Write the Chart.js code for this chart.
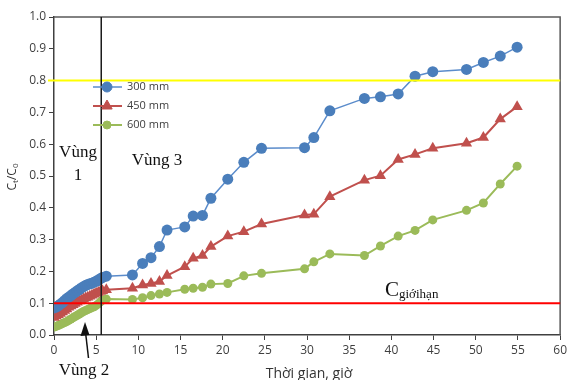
<html><head>
<meta charset="UTF-8">
<title>Ct/C0 theo thời gian</title>
<script src="https://cdn.jsdelivr.net/npm/chart.js"></script>
<style>
    body { margin: 0; background: #ffffff; }
    .chart-container { width: 570px; height: 380px; position: relative; }
</style>
</head>
<body>
<div class="chart-container">
    <canvas id="breakthroughChart" width="570" height="380"></canvas>
</div>
<script>
    // thời gian (giờ)
    const hours = [0, 0.25, 0.5, 0.75, 1, 1.25, 1.5, 1.75, 2, 2.25, 2.5, 2.75, 3, 3.25, 3.5, 3.75,
        4, 4.25, 4.5, 4.75, 5, 5.25, 5.5, 5.75,
        6.2, 9.3, 10.5, 11.5, 12.5, 13.4, 15.5, 16.5, 17.6, 18.6, 20.6, 22.5, 24.6, 29.7, 30.8, 32.7,
        36.8, 38.7, 40.8, 42.8, 44.9, 48.9, 50.9, 52.9, 54.9];

    const c300 = [0.085, 0.088, 0.092, 0.097, 0.102, 0.108, 0.114, 0.119, 0.124, 0.129, 0.134, 0.139,
        0.143, 0.148, 0.152, 0.156, 0.159, 0.161, 0.163, 0.166, 0.169, 0.173, 0.177, 0.181,
        0.185, 0.189, 0.225, 0.243, 0.278, 0.33, 0.34, 0.374, 0.376, 0.43, 0.49, 0.543, 0.587, 0.589, 0.621, 0.705,
        0.744, 0.749, 0.758, 0.814, 0.828, 0.835, 0.857, 0.877, 0.905];

    const c450 = [0.055, 0.06, 0.064, 0.068, 0.072, 0.077, 0.082, 0.087, 0.091, 0.095, 0.099, 0.103,
        0.107, 0.11, 0.113, 0.116, 0.119, 0.122, 0.125, 0.128, 0.131, 0.134, 0.137, 0.139,
        0.142, 0.147, 0.157, 0.162, 0.168, 0.187, 0.215, 0.241, 0.25, 0.278, 0.311, 0.325, 0.349, 0.377, 0.38, 0.435,
        0.487, 0.501, 0.552, 0.568, 0.587, 0.603, 0.621, 0.679, 0.718];

    const c600 = [0.025, 0.027, 0.03, 0.033, 0.036, 0.039, 0.042, 0.046, 0.05, 0.054, 0.058, 0.062,
        0.066, 0.07, 0.074, 0.077, 0.08, 0.083, 0.086, 0.089, 0.093, 0.098, 0.104, 0.11,
        0.113, 0.112, 0.117, 0.124, 0.129, 0.134, 0.144, 0.147, 0.15, 0.16, 0.162, 0.186, 0.194, 0.208, 0.23, 0.255,
        0.25, 0.28, 0.311, 0.329, 0.362, 0.392, 0.415, 0.475, 0.531];

    const seriesLabels = ['300 mm', '450 mm', '600 mm'];

    // mốc tham chiếu
    const limitLevel = 0.1;      // C giới hạn
    const upperLevel = 0.8;
    const zoneBoundary = 5.6;    // ranh giới vùng (giờ)

    const toPoints = (ys) => hours.map((h, i) => ({ x: h, y: ys[i] }));

    const axisColor = '#404040';
    const tickColor = '#3f3f3f';
    const serif = '"Liberation Serif", "DejaVu Serif", serif';
    const sans = '"Open Sans", "Liberation Sans", sans-serif';

    const overlay = {
        id: 'overlay',
        afterDatasetsDraw(chart) {
            const { ctx, chartArea: a, scales: { x, y } } = chart;
            ctx.save();

            // khung
            ctx.strokeStyle = '#595959';
            ctx.lineWidth = 1.5;
            ctx.beginPath();
            ctx.moveTo(a.left, a.top);
            ctx.lineTo(a.right, a.top);
            ctx.lineTo(a.right, a.bottom);
            ctx.stroke();

            // đường ngang
            const yUp = y.getPixelForValue(upperLevel);
            ctx.strokeStyle = '#ffff00';
            ctx.lineWidth = 2;
            ctx.beginPath(); ctx.moveTo(a.left - 6, yUp); ctx.lineTo(a.right, yUp); ctx.stroke();

            const yLim = y.getPixelForValue(limitLevel);
            ctx.strokeStyle = '#ff0000';
            ctx.beginPath(); ctx.moveTo(a.left, yLim); ctx.lineTo(a.right, yLim); ctx.stroke();

            // đường dọc
            const xB = x.getPixelForValue(zoneBoundary);
            ctx.strokeStyle = '#1a1a1a';
            ctx.lineWidth = 1.5;
            ctx.beginPath(); ctx.moveTo(xB, a.top); ctx.lineTo(xB, a.bottom); ctx.stroke();

            // chú giải
            const ds = chart.data.datasets;
            const legendY = [87, 106, 125];
            ds.forEach((d, i) => {
                const ly = legendY[i];
                ctx.strokeStyle = d.borderColor;
                ctx.lineWidth = d.borderWidth;
                ctx.beginPath(); ctx.moveTo(93, ly); ctx.lineTo(122, ly); ctx.stroke();
                ctx.fillStyle = d.pointBackgroundColor;
                ctx.strokeStyle = d.pointBackgroundColor;
                ctx.lineWidth = 1;
                Chart.helpers.drawPoint(ctx, {
                    pointStyle: d.pointStyle, rotation: 0, radius: d.pointRadius - 0.5, borderWidth: 1
                }, 107, ly);
                ctx.fillStyle = '#404040';
                ctx.font = '11px ' + sans;
                ctx.textAlign = 'left';
                ctx.textBaseline = 'middle';
                ctx.fillText(seriesLabels[i], 127, ly);
            });

            // chữ vùng
            ctx.fillStyle = '#111';
            ctx.font = '17px ' + serif;
            ctx.textAlign = 'center';
            ctx.textBaseline = 'middle';
            ctx.fillText('Vùng', 78, 153);
            ctx.fillText('1', 78, 176);
            ctx.fillText('Vùng 3', 157, 161);
            ctx.fillText('Vùng 2', 84, 371);

            // mũi tên
            ctx.strokeStyle = '#111';
            ctx.lineWidth = 1.5;
            ctx.beginPath(); ctx.moveTo(88.5, 358); ctx.lineTo(85.5, 332); ctx.stroke();
            ctx.beginPath();
            ctx.moveTo(85, 322); ctx.lineTo(80.5, 336); ctx.lineTo(89.5, 335); ctx.closePath();
            ctx.fillStyle = '#111';
            ctx.fill();

            // C giới hạn
            ctx.textAlign = 'left';
            ctx.textBaseline = 'alphabetic';
            ctx.font = '21px ' + serif;
            ctx.fillText('C', 385, 296);
            const cw = ctx.measureText('C').width;
            ctx.font = '13px ' + serif;
            ctx.fillText('giớihạn', 385 + cw, 298);

            // tiêu đề trục
            ctx.fillStyle = '#333';
            ctx.font = '14px ' + sans;
            ctx.textAlign = 'center';
            ctx.textBaseline = 'middle';
            ctx.fillText('Thời gian, giờ', 309, 374);

            ctx.translate(13, 177);
            ctx.rotate(-Math.PI / 2);
            ctx.textAlign = 'left';
            ctx.textBaseline = 'middle';
            const parts = [['C', 12, 0], ['t', 8, 3], ['/C', 12, 0], ['0', 8, 3]];
            let total = 0;
            parts.forEach(([t, s]) => { ctx.font = s + 'px ' + sans; total += ctx.measureText(t).width; });
            let px = -total / 2;
            parts.forEach(([t, s, dy]) => {
                ctx.font = s + 'px ' + sans;
                ctx.fillText(t, px, dy);
                px += ctx.measureText(t).width;
            });
            ctx.restore();
        }
    };

    const ctx = document.getElementById('breakthroughChart').getContext('2d');
    new Chart(ctx, {
        type: 'line',
        data: {
            datasets: [
                {
                    label: seriesLabels[0],
                    data: toPoints(c300),
                    borderColor: '#5b8ccb',
                    borderWidth: 1.5,
                    pointStyle: 'circle',
                    pointRadius: 5.5,
                    pointBackgroundColor: '#4a7ebb',
                    pointBorderColor: '#4a7ebb',
                    pointBorderWidth: 0
                },
                {
                    label: seriesLabels[1],
                    data: toPoints(c450),
                    borderColor: '#c0504d',
                    borderWidth: 2,
                    pointStyle: 'triangle',
                    pointRadius: 6.5,
                    pointBackgroundColor: '#c0504d',
                    pointBorderColor: '#c0504d',
                    pointBorderWidth: 0
                },
                {
                    label: seriesLabels[2],
                    data: toPoints(c600),
                    borderColor: '#9bbb59',
                    borderWidth: 2,
                    pointStyle: 'circle',
                    pointRadius: 4.5,
                    pointBackgroundColor: '#9bbb59',
                    pointBorderColor: '#9bbb59',
                    pointBorderWidth: 0
                }
            ]
        },
        options: {
            responsive: false,
            animation: false,
            layout: { padding: { top: 17, right: 7, left: 0, bottom: 0 } },
            plugins: {
                legend: { display: false },
                tooltip: { enabled: false }
            },
            scales: {
                x: {
                    type: 'linear',
                    min: 0, max: 60,
                    afterFit(scale) { scale.height = 45; },
                    border: { display: true, color: axisColor, width: 1.5 },
                    grid: { display: true, drawOnChartArea: false, drawTicks: true, tickLength: 5, color: axisColor },
                    ticks: { stepSize: 5, color: tickColor, padding: 3, font: { family: sans, size: 12 } }
                },
                y: {
                    min: 0, max: 1,
                    afterFit(scale) { scale.width = 54; },
                    border: { display: true, color: axisColor, width: 1.5 },
                    grid: { display: true, drawOnChartArea: false, drawTicks: true, tickLength: 5, color: axisColor },
                    ticks: {
                        stepSize: 0.1, color: tickColor, padding: 3,
                        font: { family: sans, size: 12 },
                        callback: (v) => v.toFixed(1)
                    }
                }
            }
        },
        plugins: [overlay]
    });
</script>
</body>
</html>
